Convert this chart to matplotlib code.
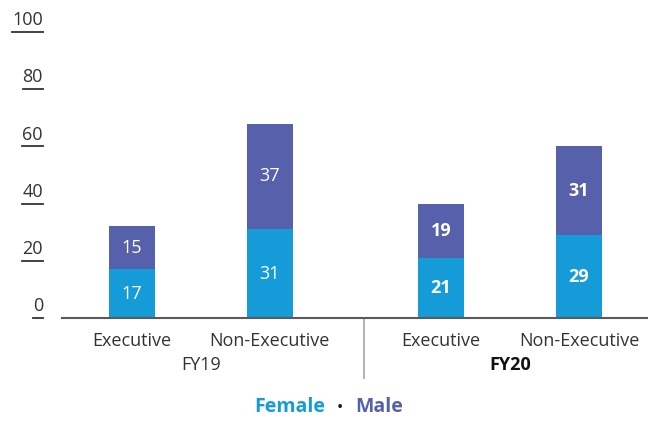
import matplotlib.pyplot as plt
from matplotlib.lines import Line2D

plt.rcParams['font.family'] = ['Open Sans', 'DejaVu Sans']

categories = ['Executive', 'Non-Executive', 'Executive', 'Non-Executive']
years = ['FY19', 'FY20']
female = [17, 31, 21, 29]
male = [15, 37, 19, 31]
y_ticks = [0, 20, 40, 60, 80, 100]

female_color = '#159cd8'
male_color = '#5660ab'
text_color = '#333333'

x = [0, 1, 2.24, 3.24]
bold = ['normal', 'normal', 'bold', 'bold']

fig = plt.figure(figsize=(6.48, 4.26), dpi=100)
ax = fig.add_axes([62 / 648, 108 / 426, 586 / 648, 286 / 426])

ax.bar(x, female, width=0.333, color=female_color)
ax.bar(x, male, width=0.333, bottom=female, color=male_color)

for xi, f, m, w in zip(x, female, male, bold):
    ax.text(xi, f / 2, str(f), ha='center', va='center', color='white',
            fontsize=13, fontweight=w)
    ax.text(xi, f + m / 2, str(m), ha='center', va='center', color='white',
            fontsize=13, fontweight=w)

ax.set_xlim(-0.507, 3.74)
ax.set_ylim(0, 100)
for s in ['top', 'right', 'left']:
    ax.spines[s].set_visible(False)
ax.spines['bottom'].set_color('#5a5a5a')
ax.spines['bottom'].set_linewidth(1.5)
ax.set_xticks([])
ax.set_yticks([])

# underlined y tick labels
fig.canvas.draw()
renderer = fig.canvas.get_renderer()
for t in y_ticks:
    lbl = ax.text(-0.645, t + 1.0, str(t), ha='right', va='bottom',
                  color=text_color, fontsize=13, clip_on=False)
    bb = lbl.get_window_extent(renderer).transformed(ax.transData.inverted())
    ax.add_line(Line2D([bb.x0, bb.x1], [t, t], color=text_color, lw=1.3,
                       clip_on=False))

# category and year labels
for xi, c in zip(x, categories):
    ax.text(xi, -8, c, ha='center', va='center', color=text_color,
            fontsize=13, clip_on=False)
ax.text(0.5, -16.5, years[0], ha='center', va='center', color=text_color,
        fontsize=13, clip_on=False)
ax.text(2.74, -16.5, years[1], ha='center', va='center', color='#111111',
        fontsize=13, fontweight='bold', clip_on=False)

# group separator
ax.add_line(Line2D([1.68, 1.68], [0, -21], color='#b0aab0', lw=1.3,
                   clip_on=False))

# legend as coloured text
fig.text(0.502, 0.022, 'Female', ha='right', va='bottom', color=female_color,
         fontsize=14, fontweight='bold')
fig.text(0.525, 0.024, '•', ha='center', va='bottom', color='#111111',
         fontsize=12)
fig.text(0.548, 0.022, 'Male', ha='left', va='bottom', color=male_color,
         fontsize=14, fontweight='bold')

fig.savefig('out.png', dpi=100)
